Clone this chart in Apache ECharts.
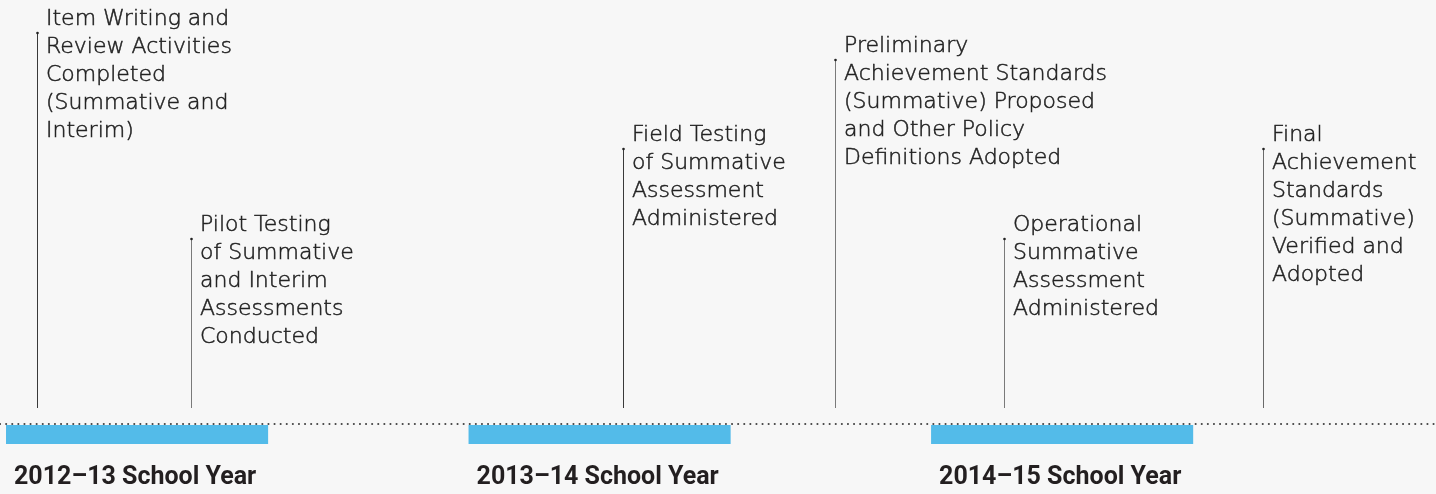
<!DOCTYPE html>
<html>
<head>
<meta charset="utf-8">
<script src="https://cdn.jsdelivr.net/npm/echarts@6/dist/echarts.min.js"></script>
<style>
html,body{margin:0;padding:0;background:#f7f7f7;}
#chart{width:1436px;height:494px;}
</style>
</head>
<body>
<div id="chart"></div>
<script>
// Data (x in months from start of the 2012–13 school-year bar; height in label-level units)
const yearLabels = ['2012–13 School Year', '2013–14 School Year', '2014–15 School Year'];
const yearStarts = [0, 12, 24];
const yearLength = 6.8;
const eventTexts = [
  'Item Writing and\nReview Activities\nCompleted\n(Summative and\nInterim)',
  'Pilot Testing\nof Summative\nand Interim\nAssessments\nConducted',
  'Field Testing\nof Summative\nAssessment\nAdministered',
  'Preliminary\nAchievement Standards\n(Summative) Proposed\nand Other Policy\nDefinitions Adopted',
  'Operational\nSummative\nAssessment\nAdministered',
  'Final\nAchievement\nStandards\n(Summative)\nVerified and\nAdopted'
];
const eventMonths = [0.8, 4.8, 16.0, 21.5, 25.9, 32.6];
const eventHeights = [391, 185, 275, 364, 185, 275];
const eventBase = 16;

// styles
const lineColors = ['#3a3a3a', '#7a7a7a', '#3a3a3a', '#7a7a7a', '#7a7a7a', '#6a6a6a'];

const chart = echarts.init(document.getElementById('chart'), null, {renderer: 'canvas'});

const yearData = yearStarts.map((s, i) => [s, s + yearLength, yearLabels[i]]);
const eventData = eventMonths.map((m, i) => [m, eventHeights[i], eventTexts[i], i]);

chart.setOption({
  backgroundColor: '#f7f7f7',
  animation: false,
  grid: {left: 0, right: 0, top: 0, bottom: 0},
  xAxis: {
    type: 'value', min: -0.156, max: 37.1,
    axisLine: {show: true, onZero: true, lineStyle: {color: '#444', width: 2, type: [0.1, 6], cap: 'round'}},
    axisTick: {show: false}, axisLabel: {show: false}, splitLine: {show: false}
  },
  yAxis: {
    type: 'value', min: -70, max: 424,
    show: false, splitLine: {show: false}
  },
  series: [
    {
      type: 'custom',
      silent: true,
      z: 1,
      data: yearData,
      renderItem: function (params, api) {
        const p0 = api.coord([api.value(0), 0]);
        const p1 = api.coord([api.value(1), 0]);
        return {
          type: 'group',
          children: [
            {type: 'rect', shape: {x: p0[0], y: p0[1] + 1, width: p1[0] - p0[0], height: 19}, style: {fill: '#53bbe9'}},
            {type: 'text', x: p0[0] + 8, y: p0[1] + 54, style: {
              text: api.value(2), fontFamily: 'Roboto', fontWeight: 'bold', fontSize: 25,
              fill: '#231f20', verticalAlign: 'middle', align: 'left'}}
          ]
        };
      }
    },
    {
      type: 'custom',
      silent: true,
      z: 3,
      data: eventData,
      renderItem: function (params, api) {
        const top = api.coord([api.value(0), api.value(1)]);
        const bot = api.coord([api.value(0), eventBase]);
        const idx = api.value(3);
        const x = Math.round(top[0]) + 0.5;
        return {
          type: 'group',
          children: [
            {type: 'line', shape: {x1: x, y1: top[1], x2: x, y2: bot[1]}, style: {stroke: lineColors[idx], lineWidth: 1}},
            {type: 'circle', shape: {cx: x, cy: top[1], r: 1.3}, style: {fill: '#222'}},
            {type: 'text', x: x + 8.5, y: top[1] - 28, style: {
              text: eventTexts[idx], fontFamily: 'DejaVu Sans', fontWeight: 300, fontSize: 22,
              lineHeight: 28, fill: '#222', stroke: '#222', lineWidth: 0.5,
              verticalAlign: 'top', align: 'left'}}
          ]
        };
      }
    }
  ]
});
</script>
</body>
</html>
